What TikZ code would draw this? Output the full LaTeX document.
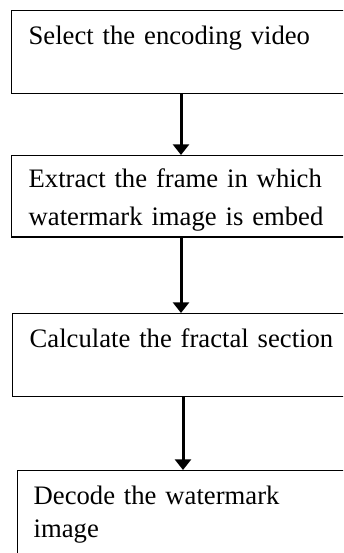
\documentclass[tikz,border=0pt]{standalone}
\usepackage{fontspec}
\setmainfont{Liberation Serif}
\usetikzlibrary{arrows.meta}

\tikzset{
	stepbox/.style={draw, line width=1pt, anchor=north west, align=left,
		text width=250pt, inner xsep=12.75pt, inner ysep=0pt,
		text height=25pt, text depth=37pt, font=\fontsize{20}{27}\selectfont},
	flow/.style={line width=2.25pt, -{Triangle[width=12pt,length=8pt]}}
}

\begin{document}
\begin{tikzpicture}[x=0.75pt,y=-0.75pt]
	\clip (0,0) rectangle (343,553);
	%Box coordinate
	\coordinate (p1) at (11,10) ;
	\coordinate (p2) at (11,155) ;
	\coordinate (p3) at (12,313) ;
	\coordinate (p4) at (17,470) ;
	\coordinate (axis) at (181,0) ;

	%Boxes
	\node[stepbox] (select) at (p1) {Select the encoding video};
	\node[stepbox, text height=24pt, font=\fontsize{20}{28.5}\selectfont] (extract) at (p2) {Extract the frame in which\\watermark image is embed};
	\node[stepbox] (fractal) at (p3) {Calculate the fractal section};
	\node[stepbox, inner xsep=12pt, text depth=75pt, font=\fontsize{20}{25}\selectfont] (decode) at (p4) {Decode the watermark\\image};

	%Arrows
	\draw[flow] (select.south -| axis)--(extract.north -| axis);
	\draw[flow] (extract.south -| axis)--(fractal.north -| axis);
	\draw[flow] ([xshift=1.5pt]fractal.south -| axis)--([xshift=1.5pt]decode.north -| axis);
\end{tikzpicture}
\end{document}
